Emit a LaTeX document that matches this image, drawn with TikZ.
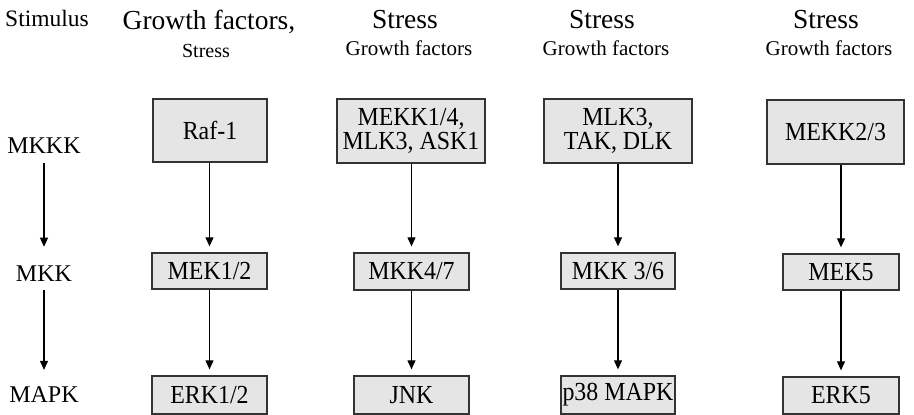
\documentclass[tikz,border=0pt]{standalone}
\usepackage{fontspec}
\setmainfont{Liberation Serif}
\newfontfamily\boxfont{Liberation Serif}[FakeStretch=0.92]
\usetikzlibrary{arrows.meta}
\begin{document}
\begin{tikzpicture}[x=1pt,y=-1pt,
  boxed/.style={draw=black!80,line width=1.3pt,fill=gray!20,inner sep=0pt,align=center,
     font=\boxfont\fontsize{26}{24}\selectfont},
  lbl/.style={inner sep=0pt,font=\fontsize{24}{28}\selectfont},
  big/.style={inner sep=0pt,anchor=base,font=\fontsize{27.5}{30}\selectfont},
  small/.style={inner sep=0pt,anchor=base,font=\fontsize{21}{26}\selectfont},
  arr/.style={line width=1.1pt,-{Triangle[width=8pt,length=9pt]}}]
\useasboundingbox (0,0) rectangle (914,415);
% headers
\node[small,font=\fontsize{23.5}{28}\selectfont] (stim) at (47,27) {Stimulus};
\node[big] (h1) at (209,29) {Growth factors,};
\node[small,font=\fontsize{20}{24}\selectfont] (s1) at (206,57) {Stress};
\node[big] (h2) at (405,28) {Stress};
\node[small] (s2) at (409,56) {Growth factors};
\node[big] (h3) at (602,28) {Stress};
\node[small] (s3) at (606,56) {Growth factors};
\node[big] (h4) at (826,28) {Stress};
\node[small] (s4) at (829,56) {Growth factors};
% row labels
\node[lbl] (mkkk) at (44,146) {MKKK};
\node[lbl] (mkk) at (44,273.5) {MKK};
\node[lbl] (mapk) at (44,395) {MAPK};
% boxes
\node[boxed,minimum width=114pt,minimum height=63pt] (raf) at (210,130.5) {Raf-1};
\node[boxed,minimum width=148pt,minimum height=64pt] (mekk14) at (411,131) {MEKK1/4,\\MLK3, ASK1};
\node[boxed,minimum width=148pt,minimum height=64pt] (mlk3) at (618,131) {MLK3,\\TAK, DLK};
\node[boxed,minimum width=137pt,minimum height=64pt] (mekk23) at (835.5,132) {MEKK2/3};
\node[boxed,minimum width=115pt,minimum height=36pt] (mek12) at (209.5,271) {MEK1/2};
\node[boxed,minimum width=115pt,minimum height=37pt] (mkk47) at (411.5,271.5) {MKK4/7};
\node[boxed,minimum width=114pt,minimum height=36pt] (mkk36) at (618,271) {MKK 3/6};
\node[boxed,minimum width=116pt,minimum height=36pt] (mek5) at (841,272) {MEK5};
\node[boxed,minimum width=115pt,minimum height=38pt] (erk12) at (209.5,395) {ERK1/2};
\node[boxed,minimum width=115pt,minimum height=38pt] (jnk) at (411.5,395) {JNK};
\node[boxed,minimum width=114pt,minimum height=38pt] (p38) at (618,395) {p38 MAPK};
\node[boxed,minimum width=116pt,minimum height=37pt] (erk5) at (841,395.5) {ERK5};
% arrows
\draw[arr,shorten <=9pt,shorten >=18.7pt] (mkkk.south) -- (mkk.north);
\draw[arr,shorten <=8.7pt,shorten >=17pt] (mkk.south) -- (mapk.north);
\draw[arr,shorten >=6pt] (raf.south -| mek12.north) -- (mek12.north);
\draw[arr,shorten >=6pt] (mek12.south) -- (erk12.north);
\draw[arr,shorten >=6pt] (mekk14.south -| mkk47.north) -- (mkk47.north);
\draw[arr,shorten >=6pt] (mkk47.south) -- (jnk.north);
\draw[arr,shorten >=6pt] (mlk3.south) -- (mkk36.north);
\draw[arr,shorten >=6pt] (mkk36.south) -- (p38.north);
\draw[arr,shorten >=6pt] (mekk23.south -| mek5.north) -- (mek5.north);
\draw[arr,shorten >=6pt] (mek5.south) -- (erk5.north);
\end{tikzpicture}
\end{document}
